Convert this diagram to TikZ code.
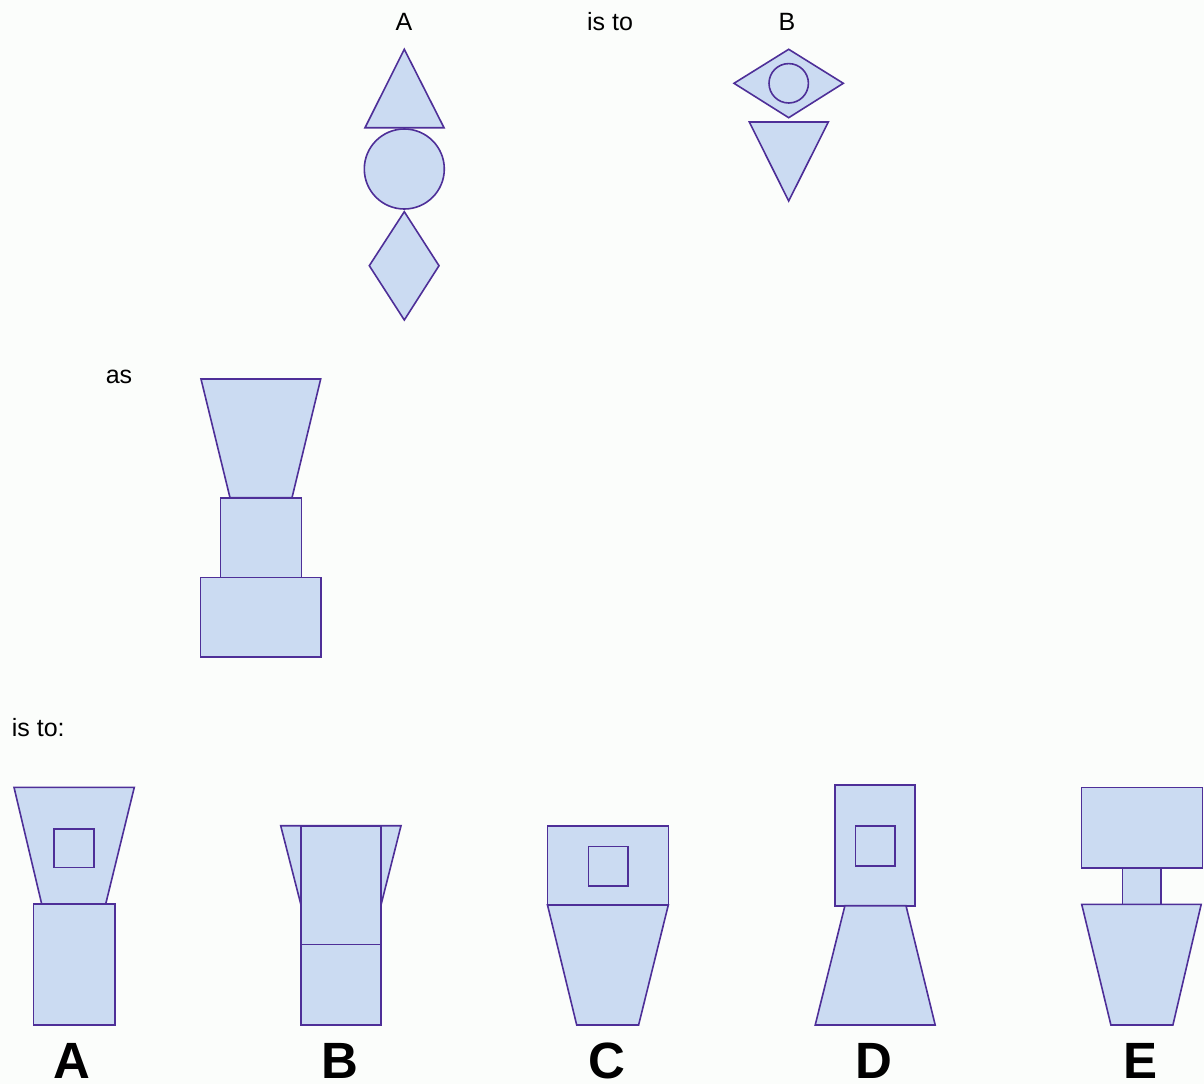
\documentclass[tikz,border=0pt]{standalone}
\usepackage{fontspec}
\setmainfont{Liberation Sans}
\definecolor{shapefill}{HTML}{CBDBF2}
\definecolor{shapeline}{HTML}{4E2F98}
\definecolor{bgcol}{HTML}{FBFDFB}
\tikzset{
  fig/.style={fill=shapefill,draw=shapeline,line width=1.6pt,line join=miter},
  txt/.style={inner sep=0pt,anchor=base,font=\fontsize{25}{30}\selectfont},
  lbl/.style={inner sep=0pt,text depth=0pt,anchor=base,font=\fontsize{51}{58}\selectfont\bfseries}
}
\begin{document}
\begin{tikzpicture}[x=1pt,y=-1pt]
\fill[bgcol] (0,0) rectangle (1204,1084);
\useasboundingbox (0,0) rectangle (1204,1084);
% texts
\node[txt] (tA) at (404,30.7) {A};
\node[txt] (tis) at (610,30.7) {is to};
\node[txt] (tB) at (787,30.7) {B};
\node[txt] (tas) at (119,383.3) {as};
\node[txt,anchor=base west] (tisto) at (11.7,736) {is to:};
% A figure
\draw[fig] (404.3,49.3) -- (444,127.7) -- (365,127.7) -- cycle;
\draw[fig] (404.3,169) circle (40);
\draw[fig] (404.3,211.7) -- (439,265.7) -- (404.3,320) -- (369.3,265.7) -- cycle;
% B figure
\draw[fig] (734,83.3) -- (788.7,49.3) -- (843.3,83.3) -- (788.7,117.7) -- cycle;
\draw[fig] (788.7,83.3) circle (19.7);
\draw[fig] (749.3,122) -- (828.3,122) -- (788.7,201) -- cycle;
% as figure
\draw[fig] (201,379) -- (320.7,379) -- (292,497.7) -- (230,497.7) -- cycle;
\draw[fig] (220.3,497.7) rectangle (301.3,577.3);
\draw[fig] (200.5,577.3) rectangle (321,657);
% option A
\draw[fig] (14,787.3) -- (134.3,787.3) -- (105.7,904) -- (41.7,904) -- cycle;
\draw[fig] (54,828.7) rectangle (93.7,867.3);
\draw[fig] (33.3,904) rectangle (114.7,1025);
% option B
\draw[fig] (280.7,825.7) -- (401,825.7) -- (381,905) -- (301,905) -- cycle;
\draw[fig] (301,825.7) rectangle (381,944.3);
\draw[fig] (301,944.3) rectangle (381,1025);
% option C
\draw[fig] (547.5,825.7) rectangle (668.3,905);
\draw[fig] (588.5,846.3) rectangle (627.7,885.7);
\draw[fig] (547.5,905) -- (668.3,905) -- (638.6,1025) -- (576.7,1025) -- cycle;
% option D
\draw[fig] (834.9,785) rectangle (914.7,905.7);
\draw[fig] (855.4,825.7) rectangle (895,865.7);
\draw[fig] (844.9,905.7) -- (906,905.7) -- (935.2,1025) -- (815.2,1025) -- cycle;
% option E
\draw[fig] (1081.3,787.3) rectangle (1202.3,867.7);
\draw[fig] (1122.3,867.7) rectangle (1161,904.3);
\draw[fig] (1081.7,904.3) -- (1201.2,904.3) -- (1172.9,1025) -- (1110.9,1025) -- cycle;
% labels
\node[lbl] (lA) at (71.7,1078) {A};
\node[lbl] (lB) at (340,1078) {B};
\node[lbl] (lC) at (607.2,1078) {C};
\node[lbl] (lD) at (874,1078) {D};
\node[lbl] (lE) at (1140.6,1078) {E};
\end{tikzpicture}
\end{document}
